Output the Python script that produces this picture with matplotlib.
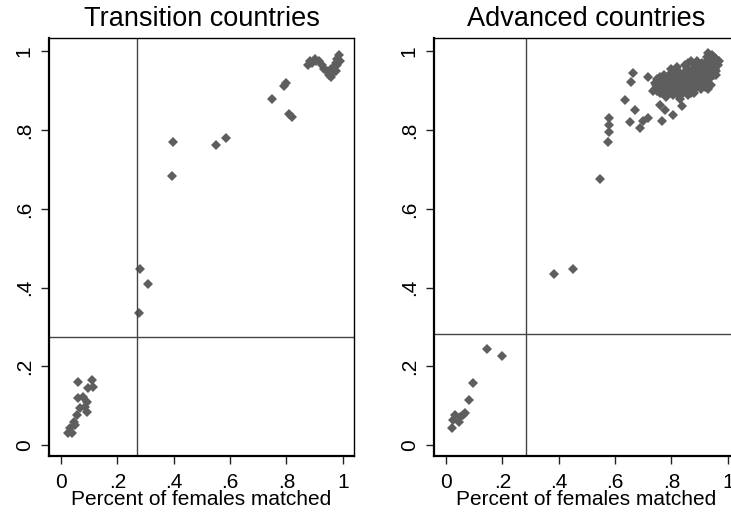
import matplotlib
matplotlib.use("Agg")
import matplotlib.pyplot as plt

plt.rcParams['font.family'] = ['Liberation Sans', 'DejaVu Sans']

# Transition countries: share of males matched (y) vs share of females matched (x)
TR_X = [0.061, 0.109, 0.115, 0.097, 0.061, 0.079, 0.091, 0.085, 0.067, 0.091, 0.056, 0.044,
        0.032, 0.026, 0.038, 0.050,
        0.275, 0.280, 0.310, 0.394, 0.397, 0.550, 0.585, 0.750, 0.790, 0.798, 0.810, 0.820,
        0.875, 0.885, 0.900, 0.915, 0.925, 0.935, 0.945, 0.955, 0.960, 0.965, 0.970, 0.975,
        0.980, 0.985, 0.975, 0.990, 0.960, 0.890, 0.905, 0.950, 0.970, 0.980]
TR_Y = [0.161, 0.165, 0.148, 0.144, 0.119, 0.123, 0.110, 0.097, 0.093, 0.085, 0.076, 0.059,
        0.042, 0.030, 0.030, 0.050,
        0.335, 0.447, 0.410, 0.684, 0.770, 0.763, 0.780, 0.880, 0.912, 0.920, 0.840, 0.833,
        0.965, 0.975, 0.980, 0.975, 0.965, 0.955, 0.950, 0.945, 0.935, 0.945, 0.960, 0.970,
        0.980, 0.990, 0.950, 0.975, 0.955, 0.970, 0.975, 0.940, 0.950, 0.965]

# Advanced countries
AD_X = [0.097, 0.083, 0.067, 0.032, 0.050, 0.026, 0.044, 0.020, 0.060, 0.144, 0.197,
        0.383, 0.451, 0.546, 0.576, 0.580, 0.580, 0.580, 0.635, 0.664, 0.658, 0.670, 0.652,
        0.700, 0.688, 0.717, 0.717, 0.759, 0.777, 0.765, 0.806, 0.836,
        0.735, 0.745, 0.750, 0.760, 0.765, 0.770, 0.775, 0.780, 0.785, 0.790, 0.795, 0.800,
        0.805, 0.810, 0.815, 0.820, 0.825, 0.830, 0.835, 0.840, 0.845, 0.850, 0.855, 0.860,
        0.865, 0.870, 0.875, 0.880, 0.885, 0.890, 0.895, 0.900, 0.905, 0.910, 0.915, 0.920,
        0.925, 0.930, 0.925, 0.930, 0.940, 0.945, 0.950, 0.955, 0.960, 0.965, 0.970, 0.940,
        0.930, 0.905, 0.880, 0.850, 0.820, 0.800, 0.860, 0.870, 0.890,
        0.740, 0.755, 0.770, 0.785, 0.800, 0.800, 0.815, 0.830, 0.830, 0.845, 0.860, 0.860,
        0.875, 0.875, 0.890, 0.890, 0.905, 0.910, 0.920, 0.935, 0.940, 0.950, 0.955, 0.945,
        0.935, 0.915, 0.840, 0.850, 0.870, 0.820, 0.790, 0.950, 0.960, 0.910, 0.895,
        0.740, 0.750, 0.758, 0.765, 0.775, 0.780, 0.790, 0.795, 0.805, 0.810, 0.815, 0.820,
        0.825, 0.835, 0.840, 0.845, 0.850, 0.855, 0.860, 0.865, 0.870, 0.875, 0.880, 0.885,
        0.895, 0.900, 0.905, 0.910, 0.915, 0.920, 0.925, 0.930, 0.935, 0.940, 0.945, 0.950,
        0.940, 0.925, 0.955, 0.960]
AD_Y = [0.157, 0.114, 0.080, 0.076, 0.072, 0.064, 0.059, 0.042, 0.075, 0.243, 0.226,
        0.435, 0.446, 0.676, 0.771, 0.796, 0.812, 0.830, 0.877, 0.944, 0.923, 0.851, 0.820,
        0.822, 0.805, 0.832, 0.936, 0.864, 0.851, 0.823, 0.839, 0.860,
        0.900, 0.915, 0.930, 0.895, 0.910, 0.925, 0.940, 0.885, 0.900, 0.915, 0.930, 0.945,
        0.890, 0.905, 0.920, 0.935, 0.950, 0.880, 0.895, 0.910, 0.925, 0.940, 0.955, 0.890,
        0.905, 0.920, 0.935, 0.950, 0.965, 0.910, 0.925, 0.940, 0.955, 0.970, 0.920, 0.935,
        0.950, 0.965, 0.985, 0.995, 0.980, 0.945, 0.960, 0.975, 0.940, 0.965, 0.975, 0.915,
        0.905, 0.905, 0.895, 0.965, 0.960, 0.955, 0.970, 0.975, 0.975,
        0.905, 0.920, 0.905, 0.925, 0.910, 0.930, 0.940, 0.910, 0.930, 0.945, 0.935, 0.955,
        0.910, 0.955, 0.940, 0.960, 0.930, 0.945, 0.960, 0.930, 0.950, 0.940, 0.955, 0.990,
        0.970, 0.955, 0.895, 0.905, 0.895, 0.900, 0.895, 0.985, 0.980, 0.960, 0.945,
        0.920, 0.900, 0.935, 0.895, 0.915, 0.930, 0.905, 0.940, 0.900, 0.925, 0.950, 0.915,
        0.890, 0.920, 0.935, 0.900, 0.920, 0.930, 0.910, 0.945, 0.930, 0.925, 0.905, 0.940,
        0.915, 0.955, 0.940, 0.925, 0.940, 0.910, 0.935, 0.950, 0.960, 0.935, 0.965, 0.950,
        0.975, 0.975, 0.970, 0.950]

PANELS = [("Transition countries", TR_X, TR_Y, 0.27, 0.274),
          ("Advanced countries", AD_X, AD_Y, 0.284, 0.282)]
TICKS = [0, 0.2, 0.4, 0.6, 0.8, 1]
TICK_LABELS = ["0", ".2", ".4", ".6", ".8", "1"]

fig = plt.figure(figsize=(7.31, 5.12), dpi=100)
lefts = [49 / 731, 434 / 731]
for (title, xs, ys, vline, hline), left in zip(PANELS, lefts):
    ax = fig.add_axes([left, 56 / 512, 305 / 731, 418 / 512])
    ax.plot(xs, ys, "D", color="#5e5e5e", ms=5.4, mew=0)
    ax.axvline(vline, color="#444444", lw=1.0)
    ax.axhline(hline, color="#444444", lw=1.0)
    ax.set_xlim(-0.043, 1.04); ax.set_ylim(-0.028, 1.034)
    ax.set_xticks(TICKS); ax.set_xticklabels(TICK_LABELS, fontsize=15)
    ax.set_yticks(TICKS); ax.set_yticklabels(TICK_LABELS, fontsize=15, rotation=90, va="center")
    ax.tick_params(length=6, width=1, color="#222222")
    ax.tick_params(axis="x", pad=6); ax.tick_params(axis="y", pad=5)
    for s in ["left", "bottom"]: ax.spines[s].set_linewidth(1.6)
    for s in ["top", "right"]: ax.spines[s].set_linewidth(1.0)
    ax.set_title(title, fontsize=19.5, pad=8.5)
    ax.set_xlabel("Percent of females matched", fontsize=15, labelpad=-1.5)

plt.savefig("out.png", dpi=100)
